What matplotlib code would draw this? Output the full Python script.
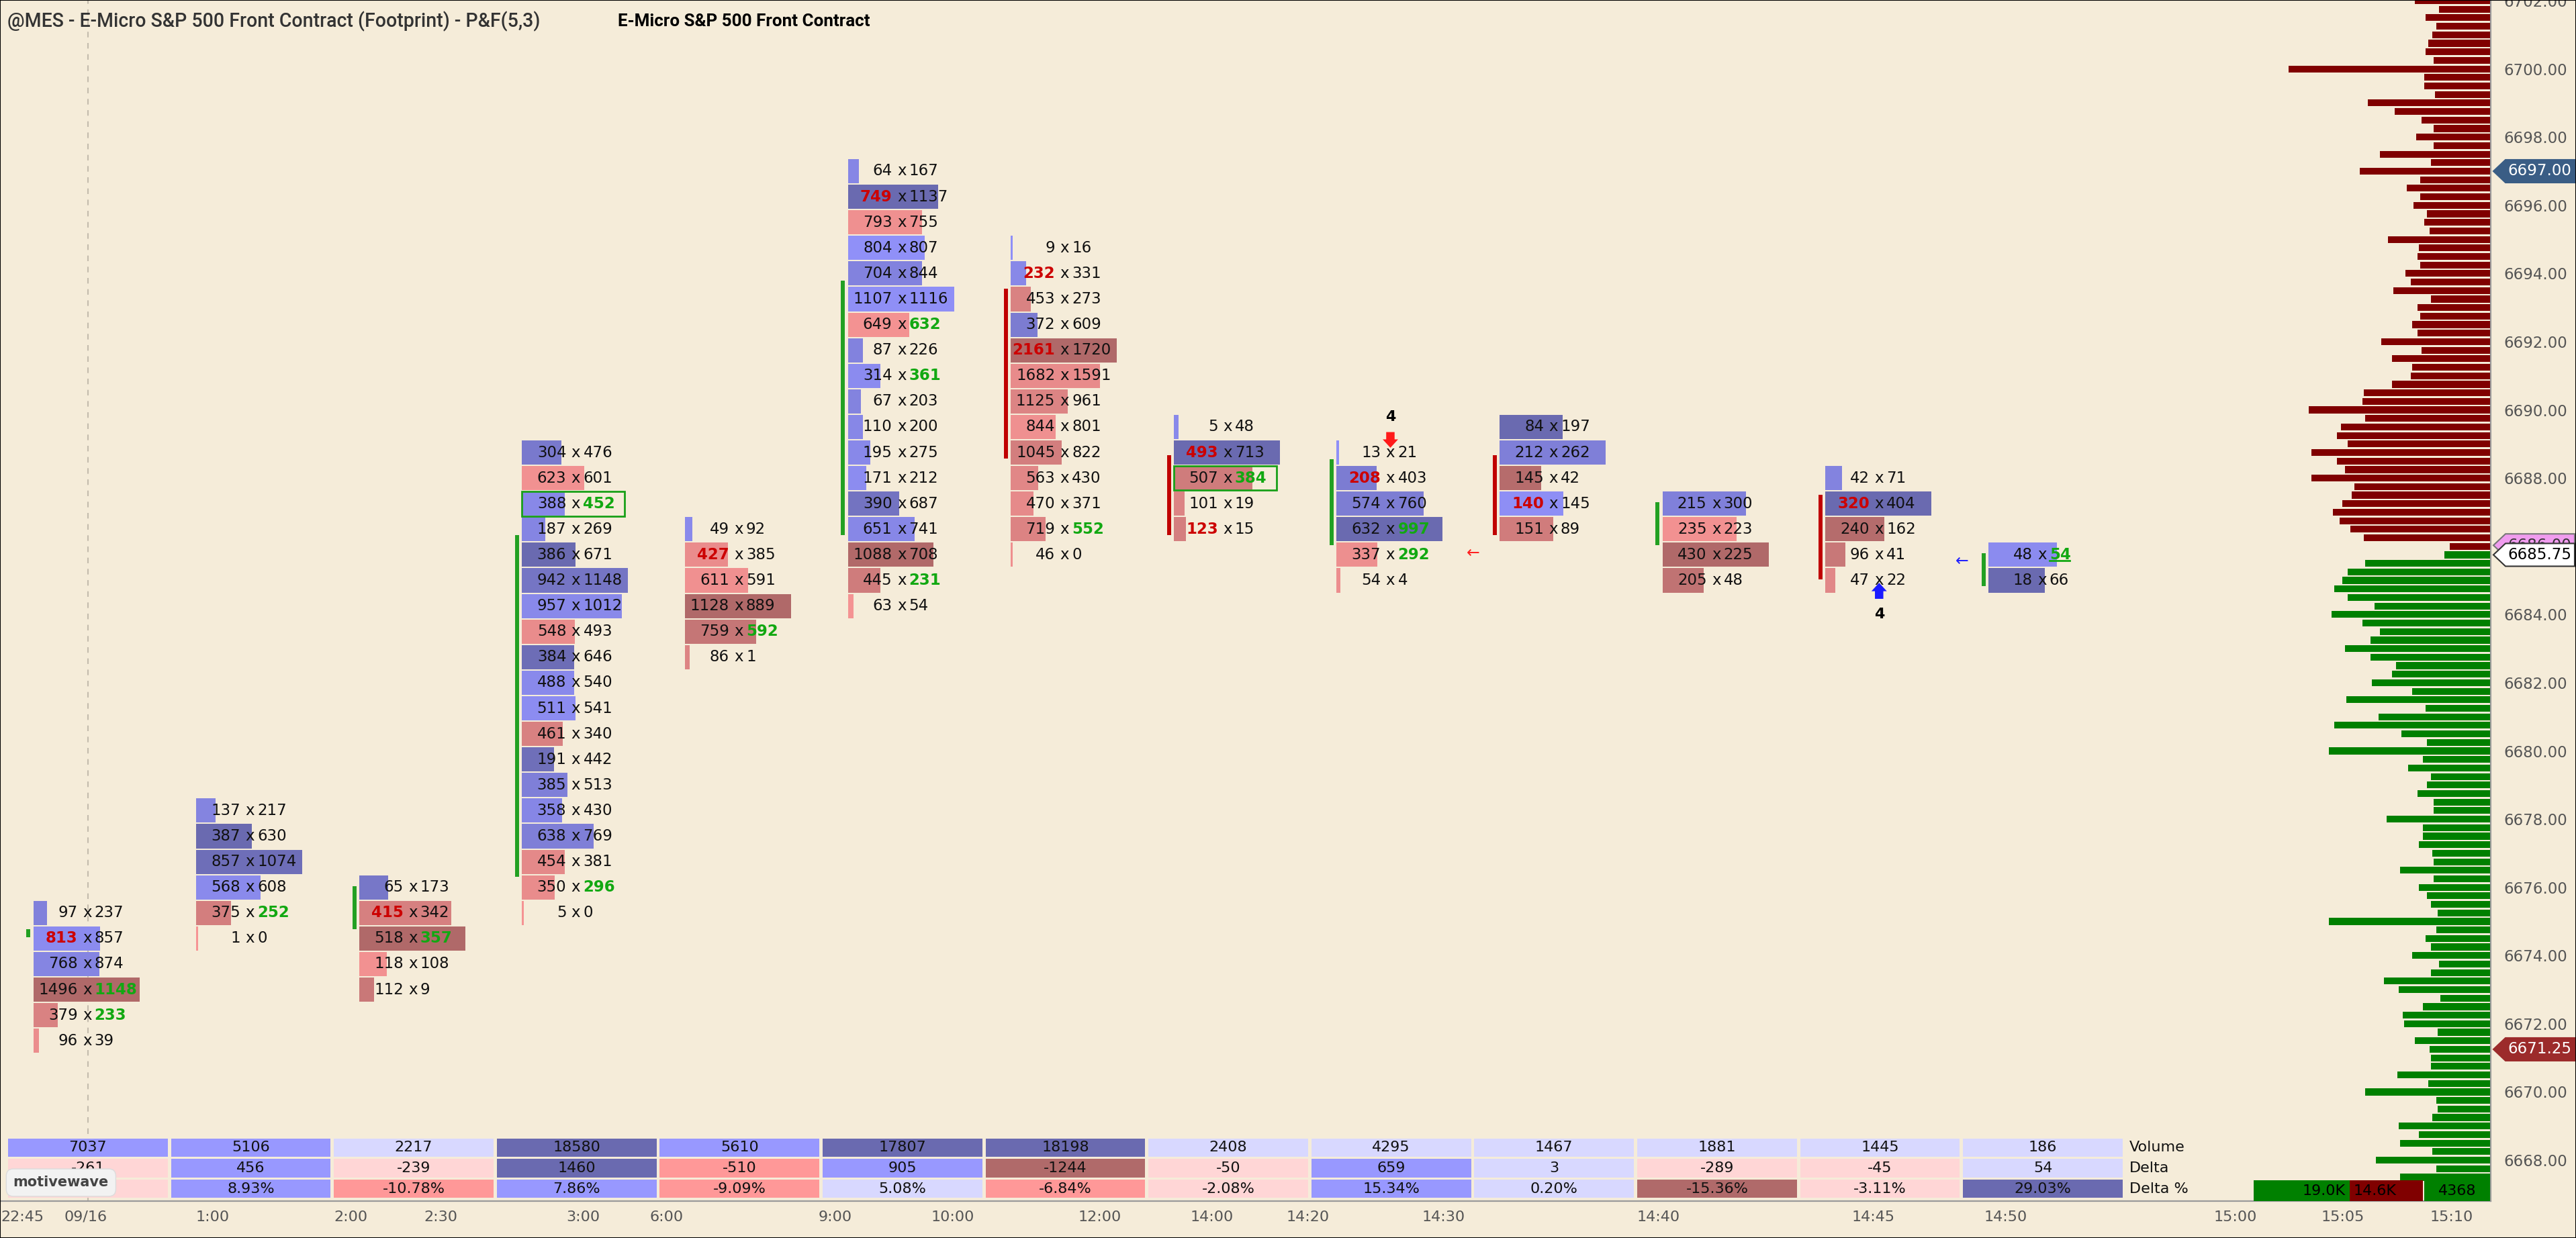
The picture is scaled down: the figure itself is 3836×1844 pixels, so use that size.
import numpy as np
import matplotlib
matplotlib.use('Agg')
import matplotlib.pyplot as plt
import matplotlib.transforms as mtransforms
from matplotlib.patches import Polygon, Rectangle

W_PX, H_PX, DPI = 3836, 1844, 100
BG = '#f5ecd9'

# footprint columns (P&F boxes), top row first: bid x ask
bids = [
    [97, 813, 768, 1496, 379, 96],
    [137, 387, 857, 568, 375, 1],
    [65, 415, 518, 118, 112],
    [304, 623, 388, 187, 386, 942, 957, 548, 384, 488, 511, 461, 191, 385, 358, 638, 454, 350, 5],
    [49, 427, 611, 1128, 759, 86],
    [64, 749, 793, 804, 704, 1107, 649, 87, 314, 67, 110, 195, 171, 390, 651, 1088, 445, 63],
    [9, 232, 453, 372, 2161, 1682, 1125, 844, 1045, 563, 470, 719, 46],
    [5, 493, 507, 101, 123],
    [13, 208, 574, 632, 337, 54],
    [84, 212, 145, 140, 151],
    [215, 235, 430, 205],
    [42, 320, 240, 96, 47],
    [48, 18],
]
asks = [
    [237, 857, 874, 1148, 233, 39],
    [217, 630, 1074, 608, 252, 0],
    [173, 342, 357, 108, 9],
    [476, 601, 452, 269, 671, 1148, 1012, 493, 646, 540, 541, 340, 442, 513, 430, 769, 381, 296, 0],
    [92, 385, 591, 889, 592, 1],
    [167, 1137, 755, 807, 844, 1116, 632, 226, 361, 203, 200, 275, 212, 687, 741, 708, 231, 54],
    [16, 331, 273, 609, 1720, 1591, 961, 801, 822, 430, 371, 552, 0],
    [48, 713, 384, 19, 15],
    [21, 403, 760, 997, 292, 4],
    [197, 262, 42, 145, 89],
    [300, 223, 225, 48],
    [71, 404, 162, 41, 22],
    [54, 66],
]
# imbalance flags per row: 'b' bid side, 'a' ask side
imbal = [
    ['', 'b', '', 'a', 'a', ''],
    ['', '', '', '', 'a', ''],
    ['', 'b', 'a', '', ''],
    ['', '', 'a', '', '', '', '', '', '', '', '', '', '', '', '', '', '', 'a', ''],
    ['', 'b', '', '', 'a', ''],
    ['', 'b', '', '', '', '', 'a', '', 'a', '', '', '', '', '', '', '', 'a', ''],
    ['', 'b', '', '', 'b', '', '', '', '', '', '', 'a', ''],
    ['', 'b', 'a', '', 'b'],
    ['', 'b', '', 'a', 'a', ''],
    ['', '', '', 'b', ''],
    ['', '', '', ''],
    ['', 'b', '', '', ''],
    ['a', ''],
]
top_box = [5, 9, 6, 23, 20, 34, 31, 24, 23, 24, 21, 22, 19]
box_base = 6671.5
box_size = 0.75
boxed_cells = [(3, 2), (7, 2)]
underlined_cells = [(12, 0)]
# column direction marks: (column, up?, from box, to box)
dir_marks = [(0, True, 4.05, 4.37), (2, True, 4.37, 6.05), (3, True, 6.41, 19.76),
             (5, True, 19.76, 29.72), (6, False, 22.76, 29.4), (7, False, 19.76, 22.9),
             (8, True, 19.39, 22.73), (9, False, 19.76, 22.9), (10, True, 19.39, 21.05),
             (11, False, 18.05, 21.36), (12, True, 17.78, 19.07)]

time_pos = [0.087, 0.478, 1.257, 2.106, 2.655, 3.528, 4.04, 5.078, 5.80, 6.70, 7.39, 7.98,
            8.81, 10.13, 11.45, 12.26, 13.67, 14.33, 15.00]
time_labels = ['22:45', '09/16', '1:00', '2:00', '2:30', '3:00', '6:00', '9:00', '10:00', '12:00',
               '14:00', '14:20', '14:30', '14:40', '14:45', '14:50', '15:00', '15:05', '15:10']

# volume profile (relative lengths), 0.25 ticks
prof_red_top = 6702.0
prof_red = [112, 76, 96, 80, 86, 92, 96, 84, 300, 98, 98, 82, 182, 142, 102, 84, 110, 84, 164, 88,
            194, 104, 124, 104, 114, 94, 98, 90, 152, 106, 108, 104, 126, 118, 144, 88, 108, 104,
            116, 108, 162, 102, 146, 116, 118, 146, 188, 190, 270, 186, 222, 228, 212, 266, 228,
            216, 266, 202, 206, 220, 234, 224, 208, 188, 60]
prof_green_top = 6685.75
prof_green = [68, 186, 212, 220, 232, 212, 172, 236, 190, 164, 178, 216, 178, 140, 146, 176,
              116, 214, 96, 166, 232, 132, 94, 240, 100, 122, 88, 94, 108, 84, 84, 154,
              100, 100, 106, 86, 84, 134, 84, 106, 94, 88, 78, 240, 80, 96, 88, 116,
              76, 88, 158, 136, 74, 100, 130, 128, 78, 112, 90, 88, 88, 138, 92, 186,
              80, 78, 86, 136, 106, 134, 86, 170, 80, 134]
sum_ask, sum_bid, sum_delta = 19000, 14600, 4368

price_tags = [(6697.00, '6697.00', '#3a5d85', '#3a5d85', 'white'),
              (6686.03, '6686.00', '#f09cef', '#777777', '#333333'),
              (6685.75, '6685.75', 'white', '#333333', 'black'),
              (6671.25, '6671.25', '#9c2b2b', '#9c2b2b', 'white')]

BLUE_L, BLUE_D = np.array([0.565, 0.565, 0.973]), np.array([0.416, 0.416, 0.69])
RED_L, RED_D = np.array([0.965, 0.58, 0.58]), np.array([0.69, 0.41, 0.41])
GREEN_T, RED_T = '#12a812', '#cc0000'
FS = 16.5
UNIT_PX = 242.6  # pixels per column

fig = plt.figure(figsize=(W_PX / DPI, H_PX / DPI), dpi=DPI, facecolor=BG)


def fx(px):
    return px / W_PX


def fy(py):
    return 1 - py / H_PX


ax = fig.add_axes([0, fy(1789), fx(3709), 1789 / H_PX])
ax.set_facecolor(BG)
xlim = (-0.0495, 15.239)
ylim = (6666.80, 6702.02)
ax.set_xlim(*xlim)
ax.set_ylim(*ylim)
ax.axvline(0.49, color='#c4bcad', lw=1.5, ls=(0, (4, 4)), zorder=0.5)

for i in range(len(bids)):
    b = np.array(bids[i])
    a = np.array(asks[i])
    tot = b + a
    d = a - b
    colmax = tot.max()
    dmax = np.abs(d).max()
    px_per_vol = min(1.0, 158.0 / colmax)
    xs = i + 0.155
    xc = xs + 0.33
    for j in range(len(b)):
        p = box_base + box_size * (top_box[i] - j)
        t = abs(d[j]) / dmax
        c = BLUE_L + (BLUE_D - BLUE_L) * t if d[j] > 0 else RED_L + (RED_D - RED_L) * t
        w = max(tot[j] * px_per_vol / UNIT_PX, 0.012)
        ax.barh(p, w, left=xs, height=0.71, color=c, zorder=2)
        fb = imbal[i][j]
        ax.text(xc - 0.058, p, str(b[j]), ha='right', va='center', fontsize=FS, zorder=3,
                color=RED_T if 'b' in fb else '#111111', weight='bold' if 'b' in fb else 'normal')
        ax.text(xc, p, 'x', ha='center', va='center', fontsize=FS, color='#111111', zorder=3)
        ax.text(xc + 0.045, p, str(a[j]), ha='left', va='center', fontsize=FS, zorder=3,
                color=GREEN_T if 'a' in fb else '#111111', weight='bold' if 'a' in fb else 'normal')
        if (i, j) in boxed_cells:
            ax.add_patch(Rectangle((xs, p - 0.36), 0.63, 0.72, fill=False, ec='#18a018', lw=2, zorder=4))
        if (i, j) in underlined_cells:
            ax.plot([xc + 0.045, xc + 0.045 + 0.0625 * len(str(a[j]))], [p - 0.17, p - 0.17],
                    color=GREEN_T, lw=2, zorder=4)

for col, up, k0, k1 in dir_marks:
    ax.vlines(col + 0.155 - 0.03, box_base + box_size * k0, box_base + box_size * k1,
              color='#22a022' if up else '#c00000', lw=4.3, zorder=2)

# signal arrows
xa = 8 + 0.155 + 0.33
pa = box_base + box_size * 23
ax.annotate('', xy=(xa, pa + 0.14), xytext=(xa, pa + 0.6),
            arrowprops=dict(arrowstyle='simple,head_width=1.65,head_length=0.9,tail_width=0.9',
                            fc='#ff1a1a', ec='none', shrinkA=0, shrinkB=0, mutation_scale=10), zorder=5)
ax.text(xa, pa + 1.05, '4', ha='center', va='center', fontsize=16, weight='bold', color='black')
xb = 11 + 0.155 + 0.33
pb = box_base + box_size * 18
ax.annotate('', xy=(xb, pb - 0.07), xytext=(xb, pb - 0.54),
            arrowprops=dict(arrowstyle='simple,head_width=1.65,head_length=0.9,tail_width=0.9',
                            fc='#1a1aff', ec='none', shrinkA=0, shrinkB=0, mutation_scale=10), zorder=5)
ax.text(xb, pb - 1.0, '4', ha='center', va='center', fontsize=16, weight='bold', color='black')
ax.text(8.994, 6685.8, '\u2190', ha='center', va='center', fontsize=17, color='#ff2020')
ax.text(11.995, 6685.56, '\u2190', ha='center', va='center', fontsize=17, color='#2020ff')

# axes styling
for s in ['left', 'top']:
    ax.spines[s].set_visible(False)
for s in ['right', 'bottom']:
    ax.spines[s].set_color('#9a9a9a')
    ax.spines[s].set_linewidth(1.6)
ax.yaxis.tick_right()
yt = np.arange(6668, 6703, 2)
ax.set_yticks(yt)
ax.set_yticklabels([f'{v:.2f}' for v in yt])
ax.tick_params(axis='y', length=0, pad=14, labelsize=16.5, labelcolor='#555555')
ax.set_xticks(time_pos)
ax.set_xticklabels(time_labels)
ax.tick_params(axis='x', length=0, pad=10, labelsize=16, labelcolor='#555555')

# volume profile
axp = fig.add_axes([fx(3388), fy(1789), fx(320), 1789 / H_PX])
axp.set_xlim(320, 0)
axp.set_ylim(*ylim)
axp.axis('off')
axp.patch.set_alpha(0)
red_prices = prof_red_top - 0.25 * np.arange(len(prof_red))
green_prices = prof_green_top - 0.25 * np.arange(len(prof_green))
axp.barh(red_prices, prof_red, height=0.2, color='#800000')
axp.barh(green_prices, prof_green, height=0.2, color='#008000')

# profile summary
axs = fig.add_axes([fx(3356), fy(1789), fx(352), 31 / H_PX])
xmax = (sum_ask + sum_bid) * 352 / 252
axs.set_xlim(0, xmax)
axs.set_ylim(0, 1)
axs.axis('off')
box_w = xmax * 98 / 352
axs.barh(0.5, sum_ask, left=0, height=1, color='#008000')
axs.barh(0.5, sum_bid, left=sum_ask, height=1, color='#800000')
axs.barh(0.5, box_w, left=xmax - box_w, height=1, color='#008000')
axs.text(sum_ask - xmax * 0.017, 0.5, f'{sum_ask / 1000:.1f}K', ha='right', va='center', fontsize=16)
axs.text(sum_ask + xmax * 0.017, 0.5, f'{sum_bid / 1000:.1f}K', ha='left', va='center', fontsize=16)
axs.text(xmax - box_w / 2, 0.5, str(sum_delta), ha='center', va='center', fontsize=16)

# summary table
vol = [int(np.sum(bids[i]) + np.sum(asks[i])) for i in range(len(bids))]
delta = [int(np.sum(asks[i]) - np.sum(bids[i])) for i in range(len(bids))]
dpct = [100.0 * delta[i] / vol[i] for i in range(len(bids))]
BL = ['#d8d8ff', '#9898ff', '#6a6ab0']
RD = ['#ffd6d6', '#ff9898', '#b06a6a']


def level(v, vals):
    pos = max([x for x in vals if x > 0] or [1])
    neg = max([-x for x in vals if x < 0] or [1])
    r = v / pos if v >= 0 else -v / neg
    idx = 0 if r < 0.25 else (1 if r < 0.75 else 2)
    return BL[idx] if v >= 0 else RD[idx]


axt = fig.add_axes([0, fy(1786), fx(3709), 92 / H_PX])
axt.set_xlim(*xlim)
axt.set_ylim(3, 0)
axt.axis('off')
axt.patch.set_alpha(0)
rows = [(vol, [str(v) for v in vol]), (delta, [str(v) for v in delta]),
        (dpct, [f'{v:.2f}%' for v in dpct])]
for r, (vals, labels) in enumerate(rows):
    for i in range(len(vals)):
        axt.bar(i, 0.9, width=0.98, bottom=r + 0.05, align='edge', color=level(vals[i], vals))
        axt.text(i + 0.49, r + 0.5, labels[i], ha='center', va='center', fontsize=16, color='#111111')
for r, name in enumerate(['Volume', 'Delta', 'Delta %']):
    axt.text(13.02, r + 0.5, name, ha='left', va='center', fontsize=16, color='#111111')
axt.text(0.325, 2.2, 'motivewave', ha='center', va='center', fontsize=15, weight='bold', color='#444444',
         bbox=dict(boxstyle='round,pad=0.5', fc='#f2f2f2', ec='#dcdcdc'))

# price tags on the axis
trans = mtransforms.blended_transform_factory(fig.transFigure, ax.transData)
h = 17 / 50.8
for n, (p, txt, fc, ec, tc) in enumerate(price_tags):
    pts = [(fx(3713), p), (fx(3731), p + h), (fx(3834), p + h), (fx(3834), p - h), (fx(3731), p - h)]
    fig.add_artist(Polygon(pts, closed=True, fc=fc, ec=ec, lw=1.5, transform=trans, zorder=10 + 2 * n))
    fig.text(fx(3782), p, txt, ha='center', va='center', fontsize=16.5, color=tc, transform=trans,
             zorder=11 + 2 * n)

# titles, sized to the widths seen in the original
t1 = fig.text(fx(11), fy(32), '@MES - E-Micro S&P 500 Front Contract (Footprint) - P&F(5,3)', ha='left',
              va='center', fontsize=18, color='#333333', family='Roboto', weight='medium')
t2 = fig.text(fx(920), fy(32), 'E-Micro S&P 500 Front Contract', ha='left', va='center', fontsize=18,
              color='black', family='Roboto', weight='bold')
renderer = fig.canvas.get_renderer()
for t, target in [(t1, 795.0), (t2, 376.0)]:
    wpx = t.get_window_extent(renderer).width
    t.set_fontsize(t.get_fontsize() * target / wpx)

fig.add_artist(Rectangle((0, 0), 1, 1, transform=fig.transFigure, fill=False, ec='black', lw=1.5,
                         zorder=30))
fig.savefig('out.png', dpi=DPI, facecolor=BG)
